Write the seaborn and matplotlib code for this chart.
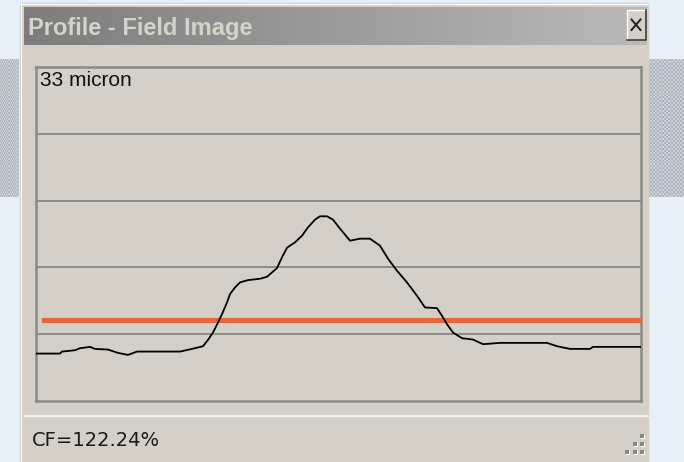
import numpy as np
import pandas as pd
import matplotlib
matplotlib.use("Agg")
import matplotlib.pyplot as plt
from matplotlib.patches import Rectangle
import seaborn as sns

# Intensity profile across the field image (sample position in pixels, level in %)
position = [0, 24, 26, 39, 44, 54, 59, 72, 82, 92, 101, 144, 156, 167, 172,
            177, 182, 186, 191, 194, 199, 204, 212, 224, 231, 241, 246, 251,
            259, 266, 272, 279, 284, 291, 297, 304, 314, 324, 334, 344, 352,
            361, 371, 381, 389, 401, 406, 411, 417, 426, 437, 447, 464, 511,
            521, 534, 554, 557, 605]
intensity = [14.2, 14.2, 14.8, 15.2, 15.8, 16.2, 15.6, 15.4, 14.4, 13.8, 14.8,
             14.8, 15.6, 16.4, 18.3, 20.5, 23.5, 26.0, 29.5, 32.0, 34.0, 35.5,
             36.2, 36.6, 37.2, 39.8, 43.0, 45.9, 47.5, 49.5, 52.0, 54.3, 55.3,
             55.3, 54.3, 51.6, 48.0, 48.6, 48.6, 46.5, 42.6, 39.0, 35.5, 31.5,
             28.0, 27.8, 25.5, 23.0, 20.5, 18.8, 18.4, 17.0, 17.4, 17.4, 16.4,
             15.6, 15.6, 16.2, 16.2]

# Threshold level and its horizontal extent
threshold = 24.3
threshold_span = [8, 605]

grid_levels = [20, 40, 60, 80]
window_title = "Profile - Field Image"
scale_label = "33 micron"
status_text = "CF=122.24%"

W, H = 684, 462
DIALOG = "#d4d0c8"

fig = plt.figure(figsize=(W / 100, H / 100), dpi=100)

# ---- window chrome drawn in pixel coordinates ----
bg = fig.add_axes([0, 0, 1, 1])
bg.set_xlim(0, W)
bg.set_ylim(H, 0)
bg.axis("off")

bg.add_patch(Rectangle((0, 0), W, H, color="#e7eff9", zorder=0))

# dotted desktop strips on both sides
cells = np.indices((70, 20)).sum(axis=0) % 2
checker = np.where(cells[..., None] == 1,
                   np.array([0.69, 0.71, 0.75]), np.array([0.80, 0.82, 0.85]))
bg.imshow(checker, extent=(0, 19, 197, 59), interpolation="nearest",
          aspect="auto", zorder=1)
bg.imshow(checker, extent=(648, W, 197, 59), interpolation="nearest",
          aspect="auto", zorder=1)

# dialog body
bg.add_patch(Rectangle((20, 3), 628, H - 3, color=DIALOG, zorder=2))
bg.plot([20.5, 20.5], [3, H], color="white", lw=0.8, zorder=3)
bg.plot([20, 648], [3.5, 3.5], color="white", lw=0.8, zorder=3)

# title bar with gradient
grad = np.linspace(0, 1, 256)[None, :, None]
left_c = np.array([0.49, 0.49, 0.49])
right_c = np.array([0.73, 0.73, 0.73])
bar = left_c + (right_c - left_c) * grad
bg.imshow(bar, extent=(24, 647, 45, 7), aspect="auto", zorder=3)
bg.text(28, 35, window_title, family="Liberation Sans", weight="bold",
        fontsize=17, color="#d6d3cc", va="baseline", ha="left", zorder=4)

# close button
bg.add_patch(Rectangle((627, 10), 19, 30, facecolor=DIALOG, edgecolor="none",
                       zorder=4))
bg.plot([627, 627, 646], [40, 10, 10], color="white", lw=1.0, zorder=5)
bg.plot([627, 646, 646], [40, 40, 10], color="#404040", lw=1.2, zorder=5)
bg.plot([631.5, 640.5], [19.5, 30], color="#202020", lw=1.4, zorder=5)
bg.plot([640.5, 631.5], [19.5, 30], color="#202020", lw=1.4, zorder=5)

# separator above the status line
bg.plot([25, 648], [414.5, 414.5], color="#b8b4ac", lw=0.8, zorder=3)
bg.plot([25, 648], [416, 416], color="white", lw=1.2, zorder=3)

bg.text(32, 441, status_text, family="DejaVu Sans", fontsize=14,
        color="#1a1a1a", va="center", ha="left", zorder=4)

# size grip
gx = [642, 634.5, 642, 626.5, 634.5, 642]
gy = [435.5, 443.5, 443.5, 451.5, 451.5, 451.5]
bg.scatter(np.array(gx) + 1, np.array(gy) + 1, marker="s", s=5,
           color="white", linewidths=0, zorder=4)
bg.scatter(gx, gy, marker="s", s=5, color="#8a8780", linewidths=0, zorder=5)

# ---- profile plot ----
left, right, top, bottom = 36, 641, 67, 401
ax = fig.add_axes([left / W, 1 - bottom / H, (right - left) / W,
                   (bottom - top) / H])
ax.set_facecolor(DIALOG)

prof = pd.DataFrame({"position": position, "intensity": intensity})
thr = pd.DataFrame({"position": threshold_span,
                    "intensity": [threshold, threshold]})

sns.lineplot(data=thr, x="position", y="intensity", ax=ax, color="#e8663c",
             lw=3.7, zorder=3)
sns.lineplot(data=prof, x="position", y="intensity", ax=ax, color="black",
             lw=1.3, zorder=4)

ax.set_xlim(0, 605)
ax.set_ylim(0, 100)
ax.set_yticks(grid_levels)
ax.set_xticks([])
ax.yaxis.grid(True, color="#8c8c8c", lw=1.4)
ax.set_axisbelow(True)
ax.tick_params(left=False, labelleft=False, bottom=False, labelbottom=False)
ax.set_xlabel("")
ax.set_ylabel("")
for s in ax.spines.values():
    s.set_color("#8a8a86")
    s.set_linewidth(1.8)

ax.text(0.007, 0.988, scale_label, transform=ax.transAxes,
        family="Liberation Sans", fontsize=15, color="#111111",
        va="top", ha="left")

fig.savefig("out.png", dpi=100)
